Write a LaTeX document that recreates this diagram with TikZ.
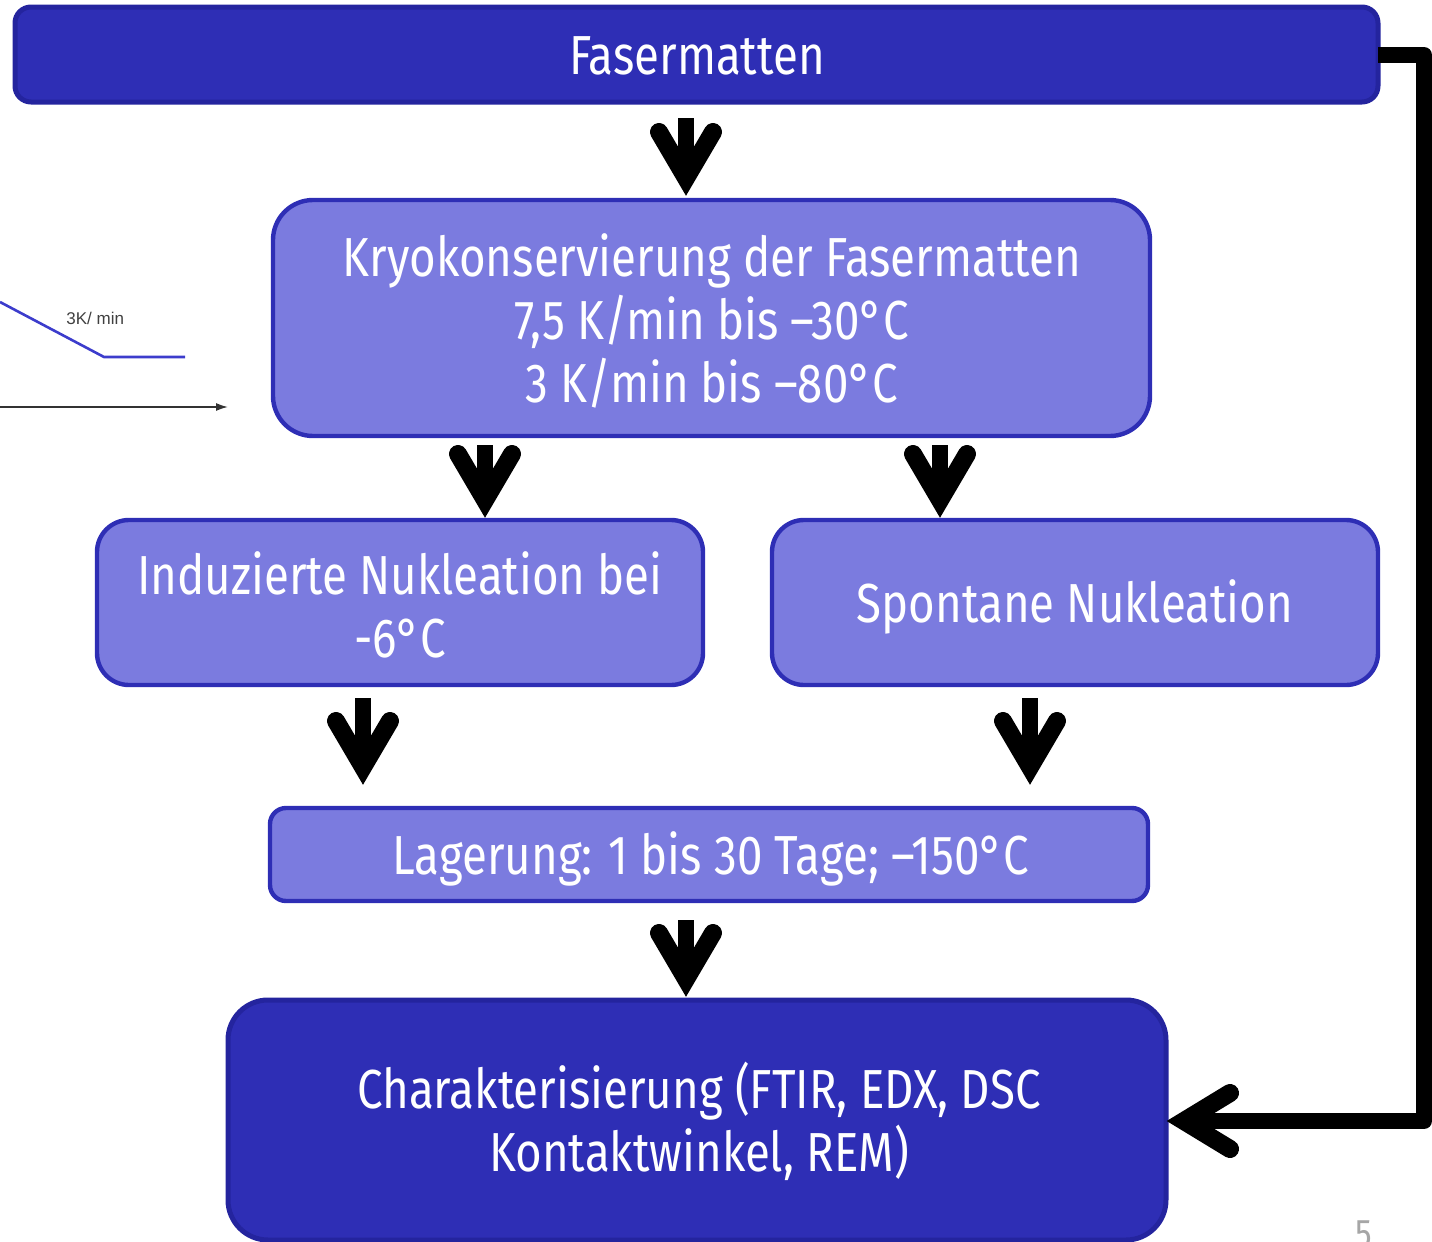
\documentclass[tikz,border=0pt]{standalone}
\usepackage{fontspec}
\setmainfont[FakeStretch=0.83]{Fira Sans}
\newfontfamily\smallfont{Liberation Sans}
\usetikzlibrary{arrows.meta}
\definecolor{darkbox}{HTML}{2E2EB5}
\definecolor{darkedge}{HTML}{24249E}
\definecolor{lightbox}{HTML}{7B7BDF}
\definecolor{chartblue}{HTML}{3C3CCC}
\tikzset{
  dbox/.style={draw=darkedge, fill=darkbox, line width=2.5pt},
  lbox/.style={draw=darkbox, fill=lightbox, line width=2.2pt},
  txt/.style={text=white, align=center, font=\fontsize{27.5pt}{31.5pt}\selectfont, inner sep=0pt},
  conn/.style={line width=8pt, line join=round}
}
\newcommand{\fatarrow}[3]{% x, top, tip
  \draw[line width=8pt] (#1,#2) -- (#1,#3-20);
  \draw[line width=9pt, line cap=round, line join=miter] (#1-27,#3-64) -- (#1,#3-18) -- (#1+27,#3-64);
}
\begin{document}
\begin{tikzpicture}[x=0.5pt,y=-0.5pt]
\useasboundingbox (0,0) rectangle (1432,1242);
\clip (0,0) rectangle (1432,1242);
% chart fragment
\draw[chartblue, line width=1.3pt] (0,302) -- (104,357) -- (185,357);
\node[font=\smallfont\fontsize{8.5pt}{9pt}\selectfont, text=black!75, anchor=west, inner sep=0pt] (lbl) at (66,318) {3K/ min};
\draw[black!80, line width=0.8pt, -{Latex[length=6pt,width=4pt]}] (0,407) -- (228,407);
% boxes
\path[dbox, rounded corners=8pt] (15,7) rectangle (1378,102);
\node[txt] (fas) at (697,56) {Fasermatten};
\coordinate (fasE) at (1378,55);
\path[lbox, rounded corners=20pt] (273,200) rectangle (1150,436);
\node[txt] (kry) at (712,321) {Kryokonservierung der Fasermatten\\7,5 K/min bis –30°C\\3 K/min bis –80°C};
\path[lbox, rounded corners=16pt] (97,520) rectangle (703,685);
\node[txt] (ind) at (400,605) {Induzierte Nukleation bei\\-6°C};
\path[lbox, rounded corners=16pt] (772,520) rectangle (1378,685);
\node[txt] (spo) at (1075,607) {Spontane Nukleation};
\path[lbox, rounded corners=8pt] (270,808) rectangle (1148,901);
\node[txt] (lag) at (711,859) {Lagerung: 1 bis 30 Tage; –150°C};
\path[dbox, rounded corners=20pt] (228,1000) rectangle (1166,1240);
\node[txt] (cha) at (699,1121) {Charakterisierung (FTIR, EDX, DSC\\Kontaktwinkel, REM)};
\coordinate (chaE) at (1167,1121);
\coordinate (c1) at (1424,55);
\coordinate (c2) at (1424,1121);
% connectors
\fatarrow{686}{118}{196}
\fatarrow{485}{445}{518}
\fatarrow{940}{445}{518}
\fatarrow{363}{698}{785}
\fatarrow{1030}{698}{785}
\fatarrow{686}{920}{997}
\draw[conn] (fasE) -- (c1) -- (c2) -- ([xshift=10pt]chaE);
\draw[line width=9pt, line cap=round, line join=miter] (1230,1093) -- (1184,1121) -- (1230,1149);
\node[text=black!35, font=\fontsize{20pt}{22pt}\selectfont] (pg) at (1364,1234) {5};
\end{tikzpicture}
\end{document}
